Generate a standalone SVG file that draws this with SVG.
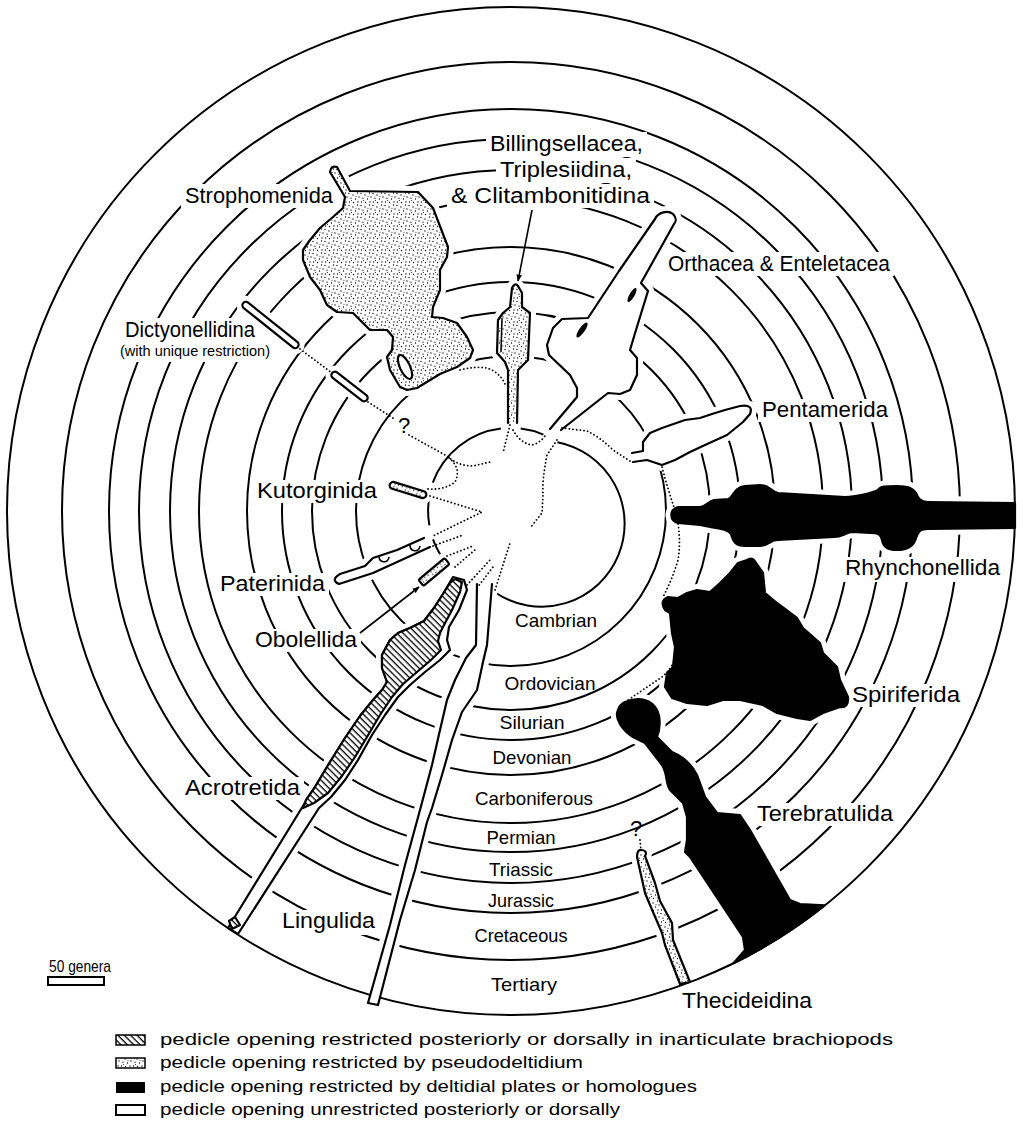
<svg xmlns="http://www.w3.org/2000/svg" width="1023" height="1142" viewBox="0 0 1023 1142">
<style>
.ring{fill:none;stroke:#000;stroke-width:2}
.halo{fill:#fff;stroke:#fff;stroke-width:12;stroke-linejoin:round}
.sh{stroke:#000;stroke-width:2.2;stroke-linejoin:round;stroke-linecap:round}
.w{fill:#fff}.st{fill:url(#stip)}.bk{fill:#000}.ht{fill:url(#hatch)}
.lbl{font-family:"Liberation Sans",Arial,sans-serif;font-size:22px;fill:#000}
.per{font-size:19px}
.sm{font-size:15px}
.leg{font-size:17px}
.dot{fill:none;stroke:#000;stroke-width:1.8;stroke-dasharray:0.1 3.6;stroke-linecap:round}
.arr{fill:none;stroke:#000;stroke-width:1.6}
.bg{fill:#fff}
</style>
<defs>
<pattern id="stip" width="12" height="12" patternUnits="userSpaceOnUse">
<rect width="12" height="12" fill="#fff"/>
<g fill="#000"><circle cx="1" cy="1.5" r=".65"/><circle cx="5" cy="3" r=".65"/><circle cx="9.5" cy="1" r=".65"/><circle cx="3" cy="6.2" r=".65"/><circle cx="7.5" cy="7" r=".65"/><circle cx="11" cy="5" r=".65"/><circle cx="1.5" cy="10" r=".65"/><circle cx="5.5" cy="10.5" r=".65"/><circle cx="10" cy="10" r=".65"/><circle cx="8" cy="4.2" r=".5"/><circle cx="3.5" cy="8.5" r=".5"/></g>
</pattern>
<pattern id="hatch" width="4.5" height="4.5" patternUnits="userSpaceOnUse" patternTransform="rotate(45)">
<rect width="4.5" height="4.5" fill="#fff"/><rect width="4.5" height="1.3" fill="#000"/>
</pattern>
<marker id="ah" viewBox="0 0 10 10" refX="9" refY="5" markerWidth="7" markerHeight="7" orient="auto" markerUnits="userSpaceOnUse"><path d="M0,1 L10,5 L0,9 Z" fill="#000"/></marker>
<path id="pS" d="M330,172 Q331,165 337,167 L350,191 L418,192 L433,208 L448,247 L447,257 L440,270 L440,290 L433,307 L432,317 L443,318 L457,323 L467,337 L473,350 L470,358 L457,367 L440,374 L417,388 L407,390 L400,387 L390,370 L387,357 L392,350 L393,337 L387,330 L370,330 L360,320 L353,313 L337,312 L327,305 L320,290 L310,277 L303,260 L303,250 L310,240 L320,228 L333,217 L343,208 L345,197 Z"/>
<path id="pB" d="M508,423 L508,370 L505,362 L497,353 L498,320 L503,313 L510,307 L512,288 Q515,282 518,286 L522,293 L522,307 L530,313 L528,360 L518,370 L517,423"/>
<path id="pO" d="M550,429 L577,397 L577,388 L570,375 L549,355 L547,345 L553,328 L562,319 L588,318 L619,271 L655,219 C658,212 668,210 673,214 C677,218 676,222 674,224 L641,283 L648,291 L636,330 L630,350 L637,358 L637,375 L630,390 L620,394 L608,393 L561,430"/>
<path id="pP" d="M632,453 L643,451 L643,442 L650,433 L662,428 L685,420 L700,418 L712,414 L725,410 L740,406 Q754,404 750,414 L743,422 L727,435 L705,445 L690,452 L675,460 L662,465 L647,460 L633,462"/>
<path id="pR" d="M678,523 C670,522 668,509 679,507 L700,507 C706,507 708,501 714,500 L728,499 C733,498 734,487 745,486 L760,485 C770,485 770,491 778,493 L845,497 C856,497 872,493 878,490 C880,486 886,486 897,486 C908,486 912,488 916,493 C918,498 920,502 928,502 L1015,503 L1015,528 L928,529 C920,529 918,532 916,538 C914,546 908,550 897,550 C887,550 883,546 882,540 C881,535 879,533 870,533 L852,532 C845,533 842,537 834,537 L778,540 C770,540 770,545 760,546 L745,546 C736,546 733,542 731,534 C728,529 718,528 710,527 L700,525 Z"/>
<path id="pSp" d="M747,560 Q753,556 756,563 L763,573 L765,593 L777,603 L797,618 L803,628 L820,643 L823,653 L837,667 L840,680 L848,697 Q849,708 840,707 L823,713 L810,720 L797,718 L777,713 L763,705 L740,700 L723,700 L707,705 L687,703 L672,698 L665,687 L667,673 L673,667 L675,647 L672,633 L670,613 L665,610 Q659,601 668,597 L678,598 L687,593 L697,590 L710,592 L720,583 L730,573 L738,563 Z"/>
<path id="pT" d="M625,702 C640,696 652,700 657,710 C661,718 660,730 657,737 L672,752 C684,757 692,765 697,775 L705,797 L717,813 L740,815 L750,830 L770,865 L790,900 L800,904 L824.7,905.4 A504,504 0 0 1 733.5,963.2 L745,950 L743,937 L690,857 L685,852 L687,840 L687,817 L683,803 L670,790 C665,782 668,775 662,765 L645,743 L633,737 C622,730 614,718 618,710 C619,706 621,704 625,702 Z"/>
<path id="pTh" d="M637,857 Q637,849 642,850 Q648,851 645,856 L655,883 L660,901 L672,923 L673,940 L690,982 L680,984 L665,945 L662,933 L650,905 L645,893 Z"/>
<path id="pL" d="M477,584 L476,645 L466,658 L455,680 L447,700 L440,730 L432,765 L420,810 L405,865 L390,925 L368,1003 L378,1005 L400,920 L415,870 L427,822 L432,808 L442,775 L452,740 L462,712 L477,690 L483,662 L487,645 L492,584"/>
<path id="pA" d="M453,577 L464,580 L467,590 L459,610 L449,627 L447,640 L450,650 L440,660 L425,672 L410,685 L398,697 L385,715 L372,735 L358,760 L345,780 L331,797 L319,808 L238,934 L228,928 L303,806 L315,787 L330,762 L345,738 L360,716 L373,700 L382,690 L387,682 L382,668 L382,655 L390,640 L398,633 L410,628 L424,621 L434,608 L443,594 Z"/>
<path id="pAh" d="M455,579 L462,582 L460,592 L452,610 L444,625 L440,633 L438,641 L441,650 L431,660 L417,672 L403,684 L392,697 L380,715 L367,737 L355,757 L342,776 L328,793 L314,803 L303,808 L306,800 L315,787 L330,762 L345,738 L360,716 L373,700 L382,690 L387,682 L382,668 L382,655 L390,640 L398,633 L410,628 L424,621 L434,608 L443,594 L450,583 Z"/>
<path id="pPa" d="M424,538 L397,550 L373,558 L365,566 L340,574 Q330,580 339,584 L373,573 L430,547"/>
<rect id="rD1" x="-35" y="-3.5" width="70" height="7" rx="3.5"/>
<rect id="rD2" x="-22" y="-3.5" width="44" height="7" rx="3.5"/>
<rect id="rK" x="-19" y="-3.5" width="38" height="7" rx="3.5"/>
<rect id="rOb" x="-17" y="-4" width="34" height="8" rx="2"/>
</defs>
<rect width="1023" height="1142" fill="#fff"/>
<g id="rings">
<circle class="ring" cx="511" cy="511" r="155"/>
<circle class="ring" cx="511" cy="511" r="199"/>
<circle class="ring" cx="511" cy="511" r="229"/>
<circle class="ring" cx="511" cy="511" r="264"/>
<circle class="ring" cx="511" cy="511" r="312"/>
<circle class="ring" cx="511" cy="511" r="341"/>
<circle class="ring" cx="511" cy="511" r="372"/>
<circle class="ring" cx="511" cy="511" r="402"/>
<circle class="ring" cx="511" cy="511" r="449"/>
<path class="ring" stroke-width="2.4" d="M520.7,428.6 A83,83 0 0 1 543.4,434.6 M557.4,442.2 A83,83 0 1 1 495.2,592.5 M447.4,564.4 A83,83 0 0 1 433,539.4 M429.4,525.4 A83,83 0 0 1 429.3,496.6 M432.8,482.6 A83,83 0 0 1 500.9,428.6"/>
</g>
<g id="halos">
<use href="#pS" class="halo"/><use href="#pB" class="halo"/><use href="#pO" class="halo"/><use href="#pP" class="halo"/>
<use href="#pR" class="halo"/><use href="#pSp" class="halo"/><use href="#pT" class="halo"/><use href="#pTh" class="halo"/>
<use href="#pL" class="halo"/><use href="#pA" class="halo"/><use href="#pPa" class="halo"/>
<use href="#rD1" class="halo" transform="translate(270.5,325) rotate(38.7)"/>
<use href="#rD2" class="halo" transform="translate(349.5,386.5) rotate(37.6)"/>
<use href="#rK" class="halo" transform="translate(408,490) rotate(17)"/>
<use href="#rOb" class="halo" transform="translate(434,572) rotate(-40)"/>
<rect class="bg" x="181" y="184" width="156" height="24"/>
<rect class="bg" x="486" y="132" width="161" height="25"/>
<rect class="bg" x="496" y="158" width="140" height="25"/>
<rect class="bg" x="447" y="184" width="207" height="24"/>
<rect class="bg" x="664" y="252" width="230" height="24"/>
<rect class="bg" x="116" y="318" width="160" height="44"/>
<rect class="bg" x="253" y="480" width="128" height="23"/>
<rect class="bg" x="216" y="573" width="113" height="23"/>
<rect class="bg" x="251" y="629" width="110" height="23"/>
<rect class="bg" x="181" y="777" width="123" height="23"/>
<rect class="bg" x="278" y="910" width="101" height="25"/>
<rect class="bg" x="758" y="399" width="134" height="23"/>
<rect class="bg" x="841" y="557" width="163" height="25"/>
<rect class="bg" x="848" y="684" width="116" height="23"/>
<rect class="bg" x="753" y="803" width="144" height="23"/>
</g>
<circle class="ring" cx="511" cy="511" r="504" stroke-width="2.2"/>
<g id="strophomenida">
<use href="#pS" class="sh st"/>
<ellipse cx="405" cy="367" rx="5" ry="13" transform="rotate(-25 405 367)" class="sh w"/>
<text class="lbl" x="333" y="203" text-anchor="end" textLength="148" lengthAdjust="spacingAndGlyphs">Strophomenida</text>
</g>
<g id="billingsellacea">
<use href="#pB" class="sh st"/>
<path d="M502,318 L501,352" fill="none" stroke="#000" stroke-width="1.5"/>
<text class="lbl" x="490" y="151" textLength="153" lengthAdjust="spacingAndGlyphs">Billingsellacea,</text>
<text class="lbl" x="500" y="177" textLength="132" lengthAdjust="spacingAndGlyphs">Triplesiidina,</text>
<text class="lbl" x="451" y="203" textLength="199" lengthAdjust="spacingAndGlyphs">&amp; Clitambonitidina</text>
</g>
<g id="orthacea">
<use href="#pO" class="sh w"/>
<ellipse cx="632" cy="295" rx="2.5" ry="8" transform="rotate(30 632 295)" class="bk"/>
<ellipse cx="582" cy="330" rx="2.8" ry="9" transform="rotate(35 582 330)" class="bk"/>
<text class="lbl" x="668" y="271" textLength="222" lengthAdjust="spacingAndGlyphs">Orthacea &amp; Enteletacea</text>
</g>
<g id="pentamerida">
<use href="#pP" class="sh w"/>
<text class="lbl" x="762" y="417" textLength="126" lengthAdjust="spacingAndGlyphs">Pentamerida</text>
</g>
<g id="rhynchonellida">
<use href="#pR" class="sh bk"/>
<text class="lbl" x="845" y="575" textLength="155" lengthAdjust="spacingAndGlyphs">Rhynchonellida</text>
</g>
<g id="spiriferida">
<use href="#pSp" class="sh bk"/>
<text class="lbl" x="852" y="702" textLength="108" lengthAdjust="spacingAndGlyphs">Spiriferida</text>
</g>
<g id="terebratulida">
<use href="#pT" class="sh bk"/>
<text class="lbl" x="757" y="821" textLength="136" lengthAdjust="spacingAndGlyphs">Terebratulida</text>
</g>
<g id="thecideidina">
<use href="#pTh" class="sh st"/>
<text class="lbl" x="630" y="836" font-size="17">?</text>
<text class="lbl" x="682" y="1008" textLength="130" lengthAdjust="spacingAndGlyphs">Thecideidina</text>
</g>
<g id="lingulida">
<use href="#pL" class="sh w"/>
<text class="lbl" x="282" y="928" textLength="93" lengthAdjust="spacingAndGlyphs">Lingulida</text>
</g>
<g id="acrotretida">
<use href="#pA" class="sh w"/>
<use href="#pAh" class="sh ht"/>
<path d="M229,921 L235,917 L240,925 L232,929 Z" class="sh ht" stroke-width="1.5"/>
<text class="lbl" x="300" y="795" text-anchor="end" textLength="115" lengthAdjust="spacingAndGlyphs">Acrotretida</text>
</g>
<g id="paterinida">
<use href="#pPa" class="sh w"/>
<path d="M379,556 c0,7 9,8 10,1 M410,545 c0,7 9,8 10,1" fill="none" stroke="#000" stroke-width="1.6"/>
<text class="lbl" x="220" y="591" textLength="105" lengthAdjust="spacingAndGlyphs">Paterinida</text>
</g>
<g id="obolellida">
<use href="#rOb" class="sh st" transform="translate(434,572) rotate(-40)"/>
<text class="lbl" x="255" y="647" textLength="102" lengthAdjust="spacingAndGlyphs">Obolellida</text>
</g>
<g id="kutorginida">
<use href="#rK" class="sh st" transform="translate(408,490) rotate(17)"/>
<text class="lbl" x="257" y="498" textLength="120" lengthAdjust="spacingAndGlyphs">Kutorginida</text>
</g>
<g id="dictyonellidina">
<use href="#rD1" class="sh w" transform="translate(270.5,325) rotate(38.7)"/>
<use href="#rD2" class="sh w" transform="translate(349.5,386.5) rotate(37.6)"/>
<text class="lbl" x="398" y="433" font-size="15">?</text>
<text class="lbl" x="255" y="337" text-anchor="end" textLength="130" lengthAdjust="spacingAndGlyphs">Dictyonellidina</text>
<text class="lbl sm" x="270" y="356" text-anchor="end" textLength="150" lengthAdjust="spacingAndGlyphs">(with unique restriction)</text>
</g>
<g id="periods" class="lbl per" text-anchor="middle">
<text x="556" y="627" textLength="82" lengthAdjust="spacingAndGlyphs">Cambrian</text>
<text x="550" y="690" textLength="91" lengthAdjust="spacingAndGlyphs">Ordovician</text>
<text x="532" y="729" textLength="65" lengthAdjust="spacingAndGlyphs">Silurian</text>
<text x="532" y="764" textLength="79" lengthAdjust="spacingAndGlyphs">Devonian</text>
<text x="534" y="805" textLength="118" lengthAdjust="spacingAndGlyphs">Carboniferous</text>
<text x="521" y="844" textLength="69" lengthAdjust="spacingAndGlyphs">Permian</text>
<text x="521" y="876" textLength="64" lengthAdjust="spacingAndGlyphs">Triassic</text>
<text x="521" y="907" textLength="66" lengthAdjust="spacingAndGlyphs">Jurassic</text>
<text x="521" y="942" textLength="93" lengthAdjust="spacingAndGlyphs">Cretaceous</text>
<text x="524" y="991" textLength="66" lengthAdjust="spacingAndGlyphs">Tertiary</text>
</g>
<g id="connectors">
<path class="dot" d="M300,349 L332,373 M368,402 L396,420 M409,435 L447,456 Q458,466 473,466 L490,462"/>
<path class="dot" d="M428,489 Q445,490 455,482 Q462,468 448,457"/>
<path class="dot" d="M430,496 L482,512 L433,536"/>
<path class="dot" d="M433,546 L463,535 M447,556 L473,546 M455,567 L476,549 M467,585 L490,560 M477,588 L493,567 M495,590 L510,543"/>
<path class="dot" d="M557,440 L547,455 Q542,480 543,495 L542,513 L530,528"/>
<path class="dot" d="M510,425 L503,453 M513,430 Q520,443 532,445 Q540,443 545,436"/>
<path class="dot" d="M630,461 L613,450 Q600,437 587,431 L562,428"/>
<path class="dot" d="M460,370 Q475,366 487,368 Q500,372 506,386"/>
<path class="dot" d="M662,467 Q668,490 675,510 Q682,535 678,560 Q672,580 663,597"/>
<path class="dot" d="M677,648 Q676,665 662,677 L628,700"/>
<path class="dot" d="M640,840 L641,851"/>
<path class="arr" d="M532,210 L518,281" marker-end="url(#ah)"/>
<path class="arr" d="M360,633 L419,587" marker-end="url(#ah)"/>
</g>
<g id="scale">
<text class="lbl leg" x="49" y="972" textLength="62" lengthAdjust="spacingAndGlyphs">50 genera</text>
<rect x="48" y="977" width="56" height="8" fill="#fff" stroke="#000" stroke-width="2"/>
</g>
<g id="legend">
<rect x="116" y="1035" width="29" height="10" class="ht" stroke="#000" stroke-width="1.5"/>
<rect x="116" y="1058" width="29" height="10" class="st" stroke="#000" stroke-width="1.5"/>
<rect x="116" y="1082" width="29" height="11" fill="#000"/>
<rect x="116" y="1105" width="29" height="10" fill="#fff" stroke="#000" stroke-width="2"/>
<text class="lbl leg" x="160" y="1045" textLength="733" lengthAdjust="spacingAndGlyphs">pedicle opening restricted posteriorly or dorsally  in inarticulate brachiopods</text>
<text class="lbl leg" x="160" y="1068" textLength="423" lengthAdjust="spacingAndGlyphs">pedicle opening restricted by pseudodeltidium</text>
<text class="lbl leg" x="160" y="1092" textLength="537" lengthAdjust="spacingAndGlyphs">pedicle opening restricted  by deltidial plates or homologues</text>
<text class="lbl leg" x="160" y="1115" textLength="460" lengthAdjust="spacingAndGlyphs">pedicle opening unrestricted posteriorly or dorsally</text>
</g>
</svg>
